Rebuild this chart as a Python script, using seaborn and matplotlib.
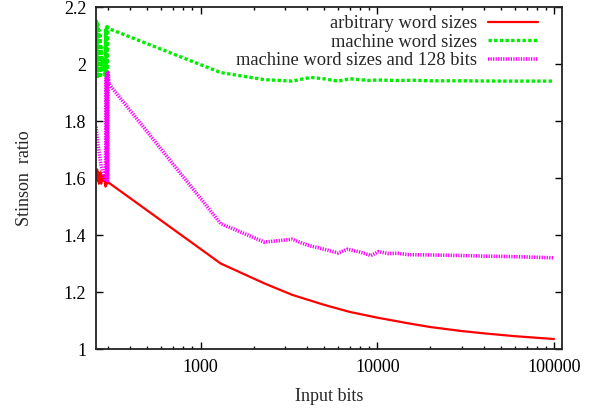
import numpy as np
import pandas as pd
import matplotlib
matplotlib.use("Agg")
import matplotlib.pyplot as plt
import seaborn as sns
from matplotlib.ticker import FuncFormatter, LogLocator, NullFormatter

# ---- data ----
series_names = ["arbitrary word sizes", "machine word sizes", "machine word sizes and 128 bits"]

red_x = [256, 258, 260, 262, 264, 266, 268, 270, 272, 274, 276, 278, 282, 286, 290, 294, 298, 300,
         1300, 2300, 3300, 5000, 7000, 10000, 15000, 20000, 30000, 40000, 60000, 100000]
red_y = [1.62, 1.60, 1.63, 1.59, 1.62, 1.58, 1.61, 1.59, 1.62, 1.58, 1.61, 1.60, 1.59, 1.61, 1.57, 1.60, 1.58, 1.585,
         1.30, 1.23, 1.19, 1.155, 1.13, 1.11, 1.09, 1.077, 1.063, 1.055, 1.045, 1.035]

green_x = [256, 258, 260, 262, 264, 266, 268, 270, 272, 274, 276, 278,
           288, 290, 292, 294, 296, 298, 300,
           1300, 2300, 3300, 4200, 5000, 6000, 7000, 8000, 9000, 10000, 13000, 16000,
           20000, 30000, 50000, 70000, 100000]
green_y = [1.98, 2.15, 1.95, 2.14, 1.96, 2.12, 1.97, 2.10, 1.96, 2.06, 1.98, 2.02,
           1.96, 2.12, 1.97, 2.13, 1.96, 2.13, 2.125,
           1.97, 1.945, 1.94, 1.953, 1.948, 1.94, 1.948, 1.945, 1.942, 1.944, 1.942, 1.943,
           1.941, 1.941, 1.940, 1.940, 1.940]

mag_x = [256, 262, 268, 274, 280, 286, 290, 292, 294, 296, 298, 300, 303,
         1300, 2300, 3300, 4000, 5000, 6000, 6800, 8000, 9200, 10200, 11500, 13000,
         15000, 20000, 30000, 40000, 60000, 100000]
mag_y = [1.78, 1.72, 1.68, 1.64, 1.62, 1.60, 1.59, 1.95, 1.60, 1.97, 1.59, 1.97, 1.93,
         1.44, 1.375, 1.385, 1.365, 1.35, 1.337, 1.35, 1.34, 1.328, 1.342, 1.335, 1.336,
         1.331, 1.330, 1.328, 1.326, 1.324, 1.32]

x_ticks = [1000, 10000, 100000]
y_ticks = [1.0, 1.2, 1.4, 1.6, 1.8, 2.0, 2.2]

df = pd.concat([
    pd.DataFrame({"x": red_x, "y": red_y, "s": series_names[0]}),
    pd.DataFrame({"x": green_x, "y": green_y, "s": series_names[1]}),
    pd.DataFrame({"x": mag_x, "y": mag_y, "s": series_names[2]}),
], ignore_index=True)

sns.set_style("ticks")
plt.rcParams["font.family"] = ["Liberation Serif", "DejaVu Serif"]

fig = plt.figure(figsize=(6.06, 4.11), dpi=100)
ax = fig.add_axes([96 / 606, (411 - 349) / 411, (562 - 96) / 606, (349 - 7) / 411])

styles = {
    series_names[0]: dict(color="#ff0000", lw=1.6, ls="-"),
    series_names[1]: dict(color="#00ee00", lw=2.4, ls=(0, (1.0, 0.7))),
    series_names[2]: dict(color="#ff00ff", lw=2.6, ls=(0, (0.35, 0.35))),
}
for name in series_names:
    sub = df[df["s"] == name]
    st = styles[name]
    sns.lineplot(data=sub, x="x", y="y", ax=ax, estimator=None, sort=False,
                 color=st["color"], linewidth=st["lw"], linestyle=st["ls"], label=name)

ax.set_xscale("log")
ax.set_xlim(256, 111000)
ax.set_ylim(1.0, 2.2)
ax.set_xticks(x_ticks)
ax.xaxis.set_major_formatter(FuncFormatter(lambda v, p: "%d" % v))
ax.xaxis.set_minor_locator(LogLocator(base=10, subs=np.arange(2, 10)))
ax.xaxis.set_minor_formatter(NullFormatter())
ax.set_yticks(y_ticks)
ax.yaxis.set_major_formatter(FuncFormatter(lambda v, p: "%g" % v))

ax.tick_params(which="both", direction="in", top=True, right=True, labelsize=13,
               colors="black", width=1.0)
ax.tick_params(which="major", length=5, pad=7)
ax.tick_params(which="minor", length=2.5)
for sp in ax.spines.values():
    sp.set_linewidth(1.3)
    sp.set_color("#222222")

ax.set_xlabel("Input bits", fontsize=13, labelpad=9)
ax.set_ylabel("Stinson  ratio", fontsize=13, labelpad=22)

# handles to the right of right-aligned labels (gnuplot style)
ax.legend(loc="upper right", frameon=False, markerfirst=False, fontsize=13.3,
          handlelength=2.7, handletextpad=0.6, labelspacing=0.08,
          borderaxespad=0.0, bbox_to_anchor=(0.965, 0.997))

fig.savefig("out.png", dpi=100)
